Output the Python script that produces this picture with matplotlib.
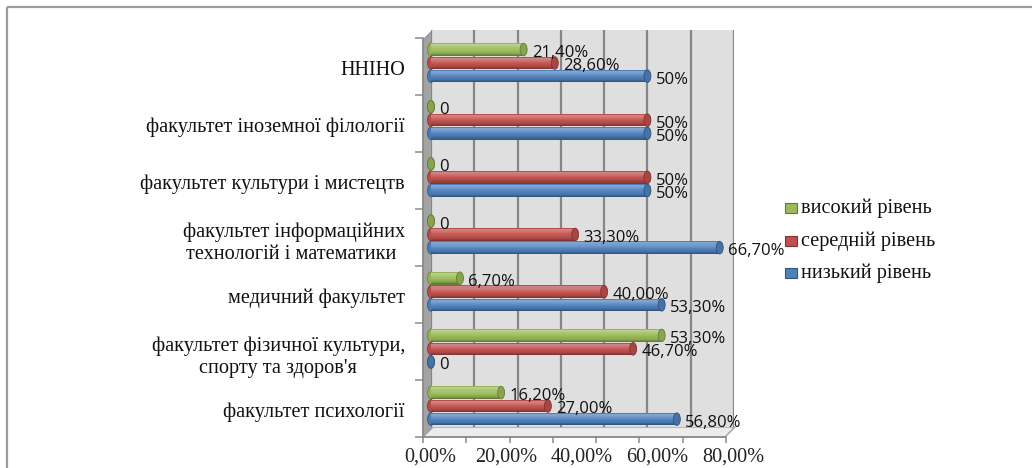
import numpy as np
import matplotlib.pyplot as plt
import matplotlib as mpl
from matplotlib.patches import Ellipse, Polygon, Rectangle
from matplotlib.transforms import Affine2D

# faculties, bottom to top
categories = [
    "факультет психології",
    "факультет фізичної культури,\nспорту та здоров'я",
    "медичний факультет",
    "факультет інформаційних\nтехнологій і математики ",
    "факультет культури і мистецтв",
    "факультет іноземної філології",
    "ННІНО",
]
high_vals = [16.2, 53.3, 6.7, 0, 0, 0, 21.4]
mid_vals = [27.0, 46.7, 40.0, 33.3, 50, 50, 28.6]
low_vals = [56.8, 0, 53.3, 66.7, 50, 50, 50]
high_labels = ["16,20%", "53,30%", "6,70%", "0", "0", "0", "21,40%"]
mid_labels = ["27,00%", "46,70%", "40,00%", "33,30%", "50%", "50%", "28,60%"]
low_labels = ["56,80%", "0", "53,30%", "66,70%", "50%", "50%", "50%"]
series_names = ["високий рівень", "середній рівень", "низький рівень"]
axis_labels = ["0,00%", "20,00%", "40,00%", "60,00%", "80,00%"]

W, H = 1032, 468
serif = "Liberation Serif"
sans = "Open Sans"

green = "#9BBB59"
red = "#C0504D"
blue = "#4F81BD"


def box(l, t, r, b):
    return [l / W, 1 - b / H, (r - l) / W, (b - t) / H]


def shade(c, a):
    c = np.array(mpl.colors.to_rgb(c))
    if a >= 0:
        return tuple(c + (1 - c) * a)
    return tuple(c * (1 + a))


# cylinder shading profile, top edge -> bottom edge
prof_t = [0.0, 0.12, 0.3, 0.55, 0.8, 1.0]
prof_a = [-0.2, 0.3, 0.2, 0.02, -0.12, -0.4]
cap_w = 1.6
bar_h = 0.22


def draw_cylinders(ax, ypos, values, labels, color):
    n = 12
    ypos = np.asarray(ypos, dtype=float)
    for k in range(n):
        t = (k + 0.5) / n
        yk = ypos + bar_h / 2 - (k + 0.5) * bar_h / n
        ax.barh(yk, values, height=bar_h / n * 1.05, left=0,
                color=shade(color, np.interp(t, prof_t, prof_a)),
                linewidth=0, zorder=3, clip_on=False)
    for y, v, lab in zip(ypos, values, labels):
        ax.add_patch(Ellipse((0, y), cap_w, bar_h, facecolor=shade(color, -0.05),
                             edgecolor=shade(color, -0.3), lw=0.6, zorder=2, clip_on=False))
        ax.add_patch(Ellipse((v, y), cap_w, bar_h, facecolor=shade(color, -0.12),
                             edgecolor=shade(color, -0.35), lw=0.6, zorder=4, clip_on=False))
        ax.annotate(lab, (v, y), xytext=(6, -2.5), textcoords="offset points",
                    ha="left", va="center", fontsize=12, family=sans,
                    color="#111111", zorder=6, annotation_clip=False)


fig = plt.figure(figsize=(W / 100, H / 100), dpi=100)
px = Affine2D().scale(1 / W, -1 / H).translate(0, 1) + fig.transFigure

# outer frame
fig.patches.append(Rectangle((7, 7), 1100, 1000, fill=False, edgecolor="#9C9C9C",
                             lw=1.6, transform=px, zorder=-5))

# front axis: tick marks and category names
ax2 = fig.add_axes(box(423, 38, 726, 437))
ax2.set_facecolor("none")
ax2.set_xlim(0, 70)
ax2.set_ylim(0, 7)
for s in ["top", "right"]:
    ax2.spines[s].set_visible(False)
for s in ["left", "bottom"]:
    ax2.spines[s].set_color("#8A8A8A")
    ax2.spines[s].set_linewidth(1.2)
ax2.set_xticks(np.arange(0, 71, 10))
ax2.set_xticklabels([])
ax2.tick_params(axis="x", length=4.5, width=1.1, color="#8A8A8A")
ax2.set_yticks(np.arange(0, 8))
ax2.set_yticklabels([])
ax2.tick_params(axis="y", which="major", length=5.8, width=1.1, color="#8A8A8A")
ax2.set_yticks(np.arange(7) + 0.47, minor=True)
ax2.set_yticklabels(categories, minor=True, fontsize=14.6, family=serif,
                    multialignment="center", color="#111111")
ax2.tick_params(axis="y", which="minor", length=0, pad=13)

# 3d side wall and floor
fig.patches.append(Polygon([(423, 40), (433, 30), (433, 427), (423, 437)], closed=True,
                           facecolor="#A3A3A3", edgecolor="#8E8E8E", lw=0.8,
                           transform=px, zorder=-1))
fig.patches.append(Polygon([(423, 437), (433, 427), (735, 427), (725, 437)], closed=True,
                           facecolor="#ECECEC", edgecolor="#A0A0A0", lw=1.0,
                           transform=px, zorder=-1))

# back wall with the bars
ax = fig.add_axes(box(431, 30, 734, 427))
ax.set_facecolor("#DEDFDE")
ax.set_xlim(0, 70)
ax.set_ylim(-0.367, 6.577)
ax.set_xticks(np.arange(0, 71, 10))
ax.grid(True, axis="x", color="#868686", lw=1.6)
ax.set_axisbelow(True)
ax.tick_params(length=0, labelbottom=False, labelleft=False)
ax.set_yticks([])
for s in ax.spines.values():
    s.set_visible(False)

ypos = np.arange(len(categories))
draw_cylinders(ax, ypos + 0.235, high_vals, high_labels, green)
draw_cylinders(ax, ypos, mid_vals, mid_labels, red)
draw_cylinders(ax, ypos - 0.23, low_vals, low_labels, blue)

# value axis labels
ax3 = fig.add_axes(box(430, 38, 733, 437))
ax3.set_facecolor("none")
ax3.set_xlim(0, 80)
ax3.set_xticks(np.arange(0, 81, 20))
ax3.set_xticklabels(axis_labels, fontsize=14.6, family=serif, color="#222222")
ax3.tick_params(axis="x", length=0, pad=7.5)
ax3.set_yticks([])
for s in ax3.spines.values():
    s.set_visible(False)

# legend
for name, color, y in zip(series_names, [green, red, blue], [208, 241, 273]):
    fig.patches.append(Rectangle((785, y - 5), 12, 10, facecolor=color,
                                 edgecolor=shade(color, -0.35), lw=0.8, transform=px))
    fig.text(801 / W, 1 - (y + 5) / H, name, fontsize=14.6, family=serif,
             va="baseline", ha="left", color="#111111")

fig.savefig("out.png", dpi=100)
